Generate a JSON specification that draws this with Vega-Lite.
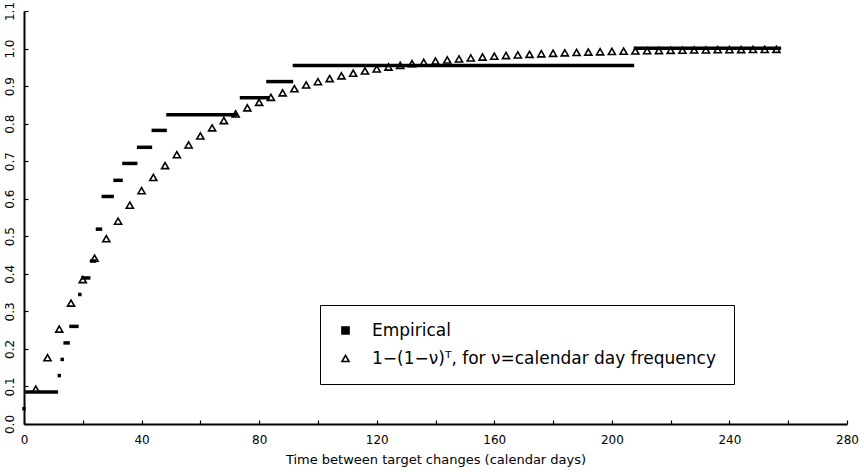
{
  "$schema": "https://vega.github.io/schema/vega-lite/v6.json",
  "width": 823,
  "height": 413,
  "autosize": "none",
  "padding": {"left": 24, "top": 11, "right": 17, "bottom": 48},
  "background": "white",
  "config": {
    "view": {"stroke": null},
    "font": "DejaVu Sans",
    "axis": {
      "domainColor": "black",
      "domainWidth": 2,
      "tickColor": "black",
      "tickWidth": 1.2,
      "grid": false,
      "labelColor": "black",
      "titleColor": "black",
      "labelFont": "DejaVu Sans",
      "titleFont": "DejaVu Sans",
      "labelFlush": false,
      "labelOverlap": false
    },
    "legend": {
      "labelFont": "DejaVu Sans",
      "labelFontSize": 17,
      "labelColor": "black",
      "labelLimit": 800,
      "strokeColor": "black",
      "strokeWidth": 1,
      "padding": 17,
      "rowPadding": 10,
      "symbolStrokeWidth": 1.6,
      "symbolSize": 50,
      "labelOffset": 18
    }
  },
  "encoding": {
    "x": {
      "field": "T", "type": "quantitative",
      "scale": {"domain": [0, 280], "nice": false, "zero": true},
      "axis": {
        "values": [0, 20, 40, 60, 80, 100, 120, 140, 160, 180, 200, 220, 240, 260, 280],
        "labelExpr": "datum.value % 40 === 0 ? datum.label : ''",
        "labelOverlap": false,
        "tickSize": -4,
        "labelPadding": 14,
        "labelFontSize": 12,
        "title": "Time between target changes (calendar days)",
        "titleFontSize": 13,
        "titleFontWeight": "normal",
        "titlePadding": 8
      }
    },
    "y": {
      "field": "p", "type": "quantitative",
      "scale": {"domain": [0, 1.1], "nice": false},
      "axis": {
        "values": [0, 0.1, 0.2, 0.3, 0.4, 0.5, 0.6, 0.7, 0.8, 0.9, 1, 1.1],
        "format": ".1f",
        "labelOverlap": false,
        "labelBound": false,
        "labelAngle": -90,
        "tickSize": -4,
        "labelPadding": 12,
        "labelFontSize": 12,
        "title": null
      }
    }
  },
  "layer": [
    {
      "data": {"values": [
        {"T": 4, "p": 0.0926},
        {"T": 8, "p": 0.1766},
        {"T": 12, "p": 0.2528},
        {"T": 16, "p": 0.322},
        {"T": 20, "p": 0.3848},
        {"T": 24, "p": 0.4418},
        {"T": 28, "p": 0.4935},
        {"T": 32, "p": 0.5403},
        {"T": 36, "p": 0.5829},
        {"T": 40, "p": 0.6216},
        {"T": 44, "p": 0.6566},
        {"T": 48, "p": 0.6884},
        {"T": 52, "p": 0.7172},
        {"T": 56, "p": 0.7434},
        {"T": 60, "p": 0.7672},
        {"T": 64, "p": 0.7888},
        {"T": 68, "p": 0.8083},
        {"T": 72, "p": 0.826},
        {"T": 76, "p": 0.8422},
        {"T": 80, "p": 0.8568},
        {"T": 84, "p": 0.87},
        {"T": 88, "p": 0.8821},
        {"T": 92, "p": 0.893},
        {"T": 96, "p": 0.9029},
        {"T": 100, "p": 0.9119},
        {"T": 104, "p": 0.92},
        {"T": 108, "p": 0.9274},
        {"T": 112, "p": 0.9342},
        {"T": 116, "p": 0.9403},
        {"T": 120, "p": 0.9458},
        {"T": 124, "p": 0.9508},
        {"T": 128, "p": 0.9554},
        {"T": 132, "p": 0.9595},
        {"T": 136, "p": 0.9633},
        {"T": 140, "p": 0.9667},
        {"T": 144, "p": 0.9697},
        {"T": 148, "p": 0.9725},
        {"T": 152, "p": 0.9751},
        {"T": 156, "p": 0.9774},
        {"T": 160, "p": 0.9795},
        {"T": 164, "p": 0.9814},
        {"T": 168, "p": 0.9831},
        {"T": 172, "p": 0.9847},
        {"T": 176, "p": 0.9861},
        {"T": 180, "p": 0.9874},
        {"T": 184, "p": 0.9886},
        {"T": 188, "p": 0.9896},
        {"T": 192, "p": 0.9906},
        {"T": 196, "p": 0.9914},
        {"T": 200, "p": 0.9922},
        {"T": 204, "p": 0.993},
        {"T": 208, "p": 0.9936},
        {"T": 212, "p": 0.9942},
        {"T": 216, "p": 0.9947},
        {"T": 220, "p": 0.9952},
        {"T": 224, "p": 0.9957},
        {"T": 228, "p": 0.9961},
        {"T": 232, "p": 0.9964},
        {"T": 236, "p": 0.9968},
        {"T": 240, "p": 0.9971},
        {"T": 244, "p": 0.9973},
        {"T": 248, "p": 0.9976},
        {"T": 252, "p": 0.9978},
        {"T": 256, "p": 0.998}
      ]},
      "transform": [
        {"calculate": "'1−(1−ν)ᵀ, for ν=calendar day frequency'", "as": "label"}
      ],
      "mark": {"type": "point", "filled": true, "strokeWidth": 1.6, "size": 50, "opacity": 1},
      "encoding": {
        "shape": {
          "field": "label", "type": "nominal",
          "scale": {"domain": ["Empirical", "1−(1−ν)ᵀ, for ν=calendar day frequency"], "range": ["square", "triangle-up"]},
          "legend": {"title": null, "orient": "none", "legendX": 296, "legendY": 294}
        },
        "fill": {
          "field": "label", "type": "nominal",
          "scale": {"domain": ["Empirical", "1−(1−ν)ᵀ, for ν=calendar day frequency"], "range": ["black", "white"]},
          "legend": {"title": null, "orient": "none", "legendX": 296, "legendY": 294}
        },
        "stroke": {
          "field": "label", "type": "nominal",
          "scale": {"domain": ["Empirical", "1−(1−ν)ᵀ, for ν=calendar day frequency"], "range": ["black", "black"]},
          "legend": {"title": null, "orient": "none", "legendX": 296, "legendY": 294}
        }
      }
    },
    {
      "data": {"values": [
        {"T": 0, "T1": 0, "p": 0.041},
        {"T": 1, "T1": 11, "p": 0.085},
        {"T": 12, "T1": 12, "p": 0.129},
        {"T": 13, "T1": 13, "p": 0.172},
        {"T": 14, "T1": 15, "p": 0.216},
        {"T": 16, "T1": 18, "p": 0.26},
        {"T": 19, "T1": 19, "p": 0.345},
        {"T": 20, "T1": 22, "p": 0.389},
        {"T": 23, "T1": 24, "p": 0.434},
        {"T": 25, "T1": 26, "p": 0.519},
        {"T": 27, "T1": 30, "p": 0.606},
        {"T": 31, "T1": 33, "p": 0.649},
        {"T": 34, "T1": 38, "p": 0.694},
        {"T": 39, "T1": 43, "p": 0.737},
        {"T": 44, "T1": 48, "p": 0.782},
        {"T": 49, "T1": 72, "p": 0.824},
        {"T": 74, "T1": 83, "p": 0.869},
        {"T": 83, "T1": 91, "p": 0.912},
        {"T": 92, "T1": 207, "p": 0.955},
        {"T": 208, "T1": 257, "p": 1.001}
      ]},
      "mark": {"type": "rule", "color": "black", "strokeWidth": 3.5, "strokeCap": "square"},
      "encoding": {
        "x2": {"field": "T1"}
      }
    }
  ]
}
